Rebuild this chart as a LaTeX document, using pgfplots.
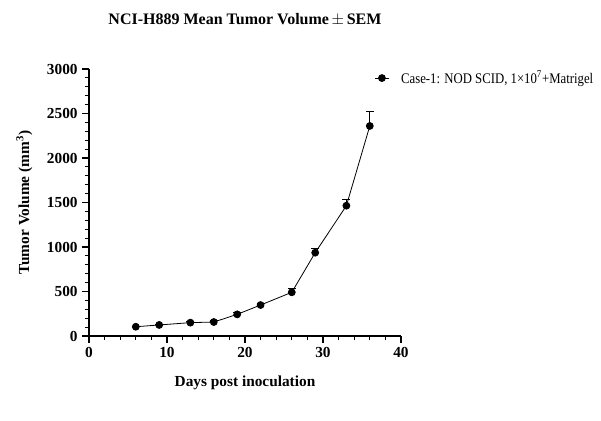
\documentclass[border=0pt]{standalone}
\usepackage{fontspec}
\setmainfont{Liberation Serif}
\usepackage{pgfplots}
\pgfplotsset{compat=1.18}
\begin{document}
\begin{tikzpicture}[x=0.75pt,y=0.75pt]
\useasboundingbox (-89,-85) rectangle (512,336);
\begin{axis}[
  at={(0pt,0pt)}, anchor=south west,
  scale only axis, width=234pt, height=200.25pt,
  xmin=0, xmax=40, ymin=0, ymax=3000,
  axis lines=left, axis line style={-, line width=0.9pt},
  xtick={0,10,20,30,40}, ytick={0,500,1000,1500,2000,2500,3000},
  minor x tick num=4, minor y tick num=4,
  tick align=outside, tick style={black, line width=0.8pt},
  major tick length=5pt, minor tick length=3pt,
  /pgf/number format/assume math mode=true,
  /pgf/number format/1000 sep={},
  tick label style={font=\fontsize{11.5}{13}\selectfont\bfseries},
  xlabel={Days post inoculation},
  ylabel={Tumor Volume (mm\textsuperscript{3})},
  label style={font=\fontsize{11.5}{13}\selectfont\bfseries},
  xlabel style={yshift=-7pt},
  ylabel style={yshift=4pt},
  title={NCI-H889 Mean Tumor Volume\,$\pm$\,SEM},
  title style={font=\fontsize{12}{14}\selectfont\bfseries, yshift=23pt},
  legend style={draw=none, fill=none, at={(0.915,0.966)}, anchor=west,
    font=\fontsize{11}{13}\selectfont\addfontfeature{FakeStretch=0.87}, inner sep=0pt},
  legend cell align=left,
  legend image code/.code={\draw[line width=0.8pt] (0pt,0pt) -- (10pt,0pt); \fill (5pt,0pt) circle (2.6pt);},
]
\addplot[black, line width=0.6pt, mark=*, mark size=2.6pt,
  error bars/.cd, y dir=plus, y explicit, error bar style={line width=0.7pt}, error mark options={rotate=90, mark size=3pt, line width=0.7pt}]
  coordinates {
  (6,104) +- (0,8)
  (9,124) +- (0,10)
  (13,150) +- (0,12)
  (16,157) +- (0,12)
  (19,243) +- (0,18)
  (22,348) +- (0,22)
  (26,491) +- (0,45)
  (29,936) +- (0,50)
  (33,1464) +- (0,75)
  (36,2360) +- (0,165)
  };
\addlegendentry{\hspace*{7pt}Case-1: NOD SCID, 1\texttimes10\textsuperscript{7}+Matrigel}
\end{axis}
\end{tikzpicture}
\end{document}
